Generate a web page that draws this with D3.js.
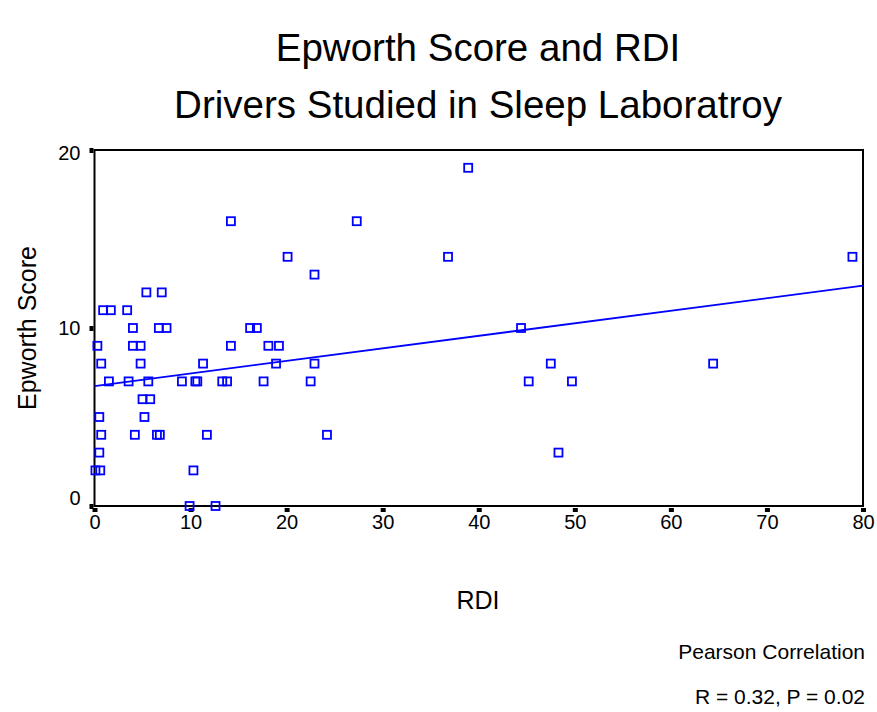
<!DOCTYPE html>
<html><head><meta charset="utf-8">
<script src="https://cdn.jsdelivr.net/npm/d3@7"></script>
<style>body{margin:0;background:#fff}svg{display:block}text{font-family:"Liberation Sans",Arial,sans-serif;fill:#000}</style>
</head><body>
<script>
const rdi = [14.2,20.1,22.9,5.4,7.0,0.9,1.7,3.4,4.0,6.7,7.5,16.2,16.9,0.3,4.0,4.8,14.2,18.1,19.2,
  0.7,4.8,11.3,18.9,22.9,1.5,3.55,5.6,9.1,10.5,10.7,13.3,13.8,17.6,22.5,5.0,5.8,0.5,5.2,0.7,4.2,6.5,6.8,11.7,
  0.5,0.1,0.6,10.3,9.9,12.6,38.9,27.3,36.8,44.4,47.5,45.2,49.7,24.2,48.3,78.9,64.4];
const epworth = [16,14,13,12,12,11,11,11,10,10,10,10,10,9,9,9,9,9,9,
  8,8,8,8,8,7,7,7,7,7,7,7,7,7,7,6,6,5,5,4,4,4,4,4,
  3,2,2,2,0,0,19,16,14,10,8,7,7,4,3,14,8];
const fitX = [0, 80];
const fitY = [6.74, 12.38];
const xTicks = [0,10,20,30,40,50,60,70,80];
const yTicks = [0,10,20];
const titles = ["Epworth Score and RDI", "Drivers Studied in Sleep Laboratroy"];
const notes = ["Pearson Correlation", "R = 0.32, P = 0.02"];

const W = 877, H = 712;
const svg = d3.select("body").append("svg").attr("width", W).attr("height", H);
const x = d3.scaleLinear().domain([0, 80]).range([94.5, 863]);
const y = d3.scaleLinear().domain([0, 20]).range([506, 150]);

svg.append("text").attr("x", 478).attr("y", 61).attr("text-anchor","middle").attr("font-size",38.5).text(titles[0]);
svg.append("text").attr("x", 478).attr("y", 118).attr("text-anchor","middle").attr("font-size",38.5).text(titles[1]);

// frame
svg.append("rect").attr("x", x(0)).attr("y", y(20)).attr("width", x(80)-x(0)).attr("height", y(0)-y(20))
  .attr("fill","none").attr("stroke","#000").attr("stroke-width",2);

// axes
const xAxis = d3.axisBottom(x).tickValues(xTicks).tickSize(0).tickPadding(9).tickFormat(d3.format("d"));
const gx = svg.append("g").attr("transform", `translate(0,${y(0)})`).call(xAxis);
gx.select(".domain").remove();
gx.selectAll("text").attr("font-size",20).style("font-family","Liberation Sans, Arial, sans-serif");
gx.selectAll(".tick").append("rect").attr("x",-2.5).attr("y",2).attr("width",5).attr("height",4).attr("fill","#000");

const yAxis = d3.axisLeft(y).tickValues(yTicks).tickSize(0).tickPadding(14).tickFormat(d3.format("d"));
const gy = svg.append("g").attr("transform", `translate(${x(0)},0)`).call(yAxis);
gy.select(".domain").remove();
gy.selectAll("text").attr("font-size",20).style("font-family","Liberation Sans, Arial, sans-serif");
gy.selectAll(".tick text").attr("dy", d => d === 0 ? "-0.1em" : d === 20 ? "0.45em" : "0.3em");
gy.selectAll(".tick").append("rect").attr("x",-5).attr("y",-2.5).attr("width",4).attr("height",5).attr("fill","#000");

// fit line
svg.append("line").attr("x1", x(fitX[0])).attr("y1", y(fitY[0])).attr("x2", x(fitX[1])).attr("y2", y(fitY[1]))
  .attr("stroke","#0000ff").attr("stroke-width",1.8);

// points
svg.append("g").selectAll("rect").data(rdi.map((d,i)=>[d, epworth[i]])).join("rect")
  .attr("x", d => x(d[0]) - 4).attr("y", d => y(d[1]) - 4).attr("width", 8).attr("height", 8)
  .attr("fill","none").attr("stroke","#0000ff").attr("stroke-width",1.8);

// axis labels
svg.append("text").attr("x", 478).attr("y", 609).attr("text-anchor","middle").attr("font-size",25).text("RDI");
svg.append("text").attr("transform", `translate(36,${(y(0)+y(20))/2}) rotate(-90)`).attr("text-anchor","middle").attr("font-size",25).text("Epworth Score");

svg.append("text").attr("x", 865).attr("y", 659).attr("text-anchor","end").attr("font-size",21).text(notes[0]);
svg.append("text").attr("x", 865).attr("y", 704).attr("text-anchor","end").attr("font-size",21).text(notes[1]);
</script>
</body></html>
